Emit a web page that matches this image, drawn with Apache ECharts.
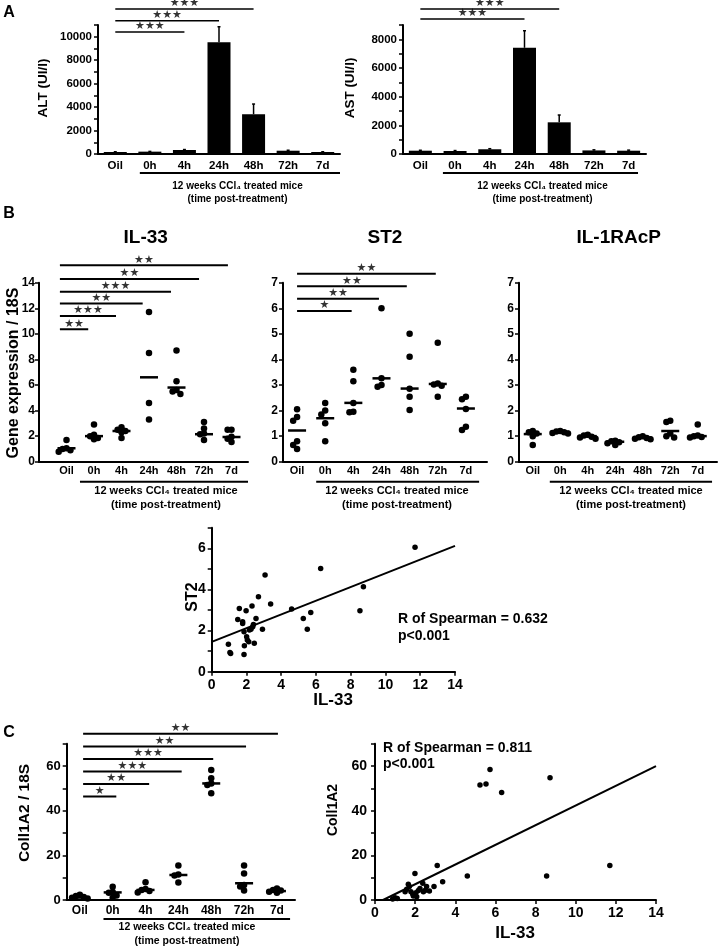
<!DOCTYPE html>
<html><head><meta charset="utf-8">
<script src="https://cdn.jsdelivr.net/npm/echarts@6/dist/echarts.min.js"></script>
<style>html,body{margin:0;padding:0;background:#fff}#c{width:720px;height:946px}</style>
</head><body><div id="c"></div>
<script>
// ---------- data ----------
const timeCats = ['Oil', '0h', '4h', '24h', '48h', '72h', '7d'];

// Panel A (bars: mean, error)
const altMean = [170, 200, 340, 9520, 3390, 280, 170];
const altErr  = [20, 20, 40, 1330, 870, 40, 20];
const astMean = [230, 210, 330, 7410, 2210, 250, 230];
const astErr  = [30, 30, 40, 1190, 510, 40, 40];
// significance brackets: [fromCat, toCat, level, stars]
const altSig = [[0, 2, 10400, '★★★'], [0, 3, 11360, '★★★'], [0, 4, 12360, '★★★']];
const astSig = [[0, 3, 9410, '★★★'], [0, 4, 10110, '★★★']];

// Panel B dot plots
const il33Values = [
  [1.7, 1.05, 1.0, 0.9, 0.78],
  [2.9, 2.1, 2.0, 1.85, 1.75],
  [2.7, 2.5, 2.4, 2.3, 1.85],
  [11.7, 8.5, 4.6, 3.3],
  [8.7, 6.3, 5.6, 5.5, 5.3],
  [3.1, 2.6, 2.2, 2.15, 1.7],
  [2.5, 2.5, 1.95, 1.8, 1.55]
];
const il33Medians = [1.05, 2.0, 2.4, 6.6, 5.8, 2.15, 1.93];
const il33Sig = [[-0.24, 0.79, 10.35, '★★'], [-0.24, 1.8, 11.39, '★★★'], [-0.24, 2.77, 12.38, '★★'],
                 [-0.24, 3.8, 13.29, '★★★'], [-0.24, 4.82, 14.28, '★★'], [-0.24, 5.87, 15.36, '★★']];

const st2Values = [
  [2.05, 1.75, 1.6, 0.8, 0.65, 0.5],
  [2.3, 2.0, 1.85, 1.5, 0.8],
  [3.6, 3.15, 2.3, 1.95, 1.93],
  [6.0, 3.26, 3.0, 2.93],
  [5.0, 4.1, 2.85, 2.54, 2.02],
  [4.65, 3.06, 3.02, 2.97, 2.54],
  [2.54, 2.44, 2.06, 1.37, 1.24]
];
const st2Medians = [1.22, 1.7, 2.3, 3.26, 2.86, 3.04, 2.08];
const st2Sig = [[0, 1.94, 5.89, '★'], [0, 2.91, 6.37, '★★'], [0, 3.9, 6.86, '★★'], [0, 4.93, 7.35, '★★']];

const il1rValues = [
  [1.2, 1.15, 1.1, 1.0, 0.65],
  [1.2, 1.18, 1.15, 1.12, 1.1],
  [1.05, 1.02, 0.98, 0.95, 0.9],
  [0.82, 0.8, 0.76, 0.72, 0.65],
  [1.0, 0.96, 0.93, 0.9, 0.88],
  [1.6, 1.55, 1.1, 1.0, 0.95],
  [1.45, 1.02, 1.0, 0.97, 0.95]
];
const il1rMedians = [1.08, 1.17, 1.0, 0.78, 0.94, 1.2, 1.0];

// ST2 vs IL-33 correlation
const il33ForSt2 = [0.96,1.05,1.09,1.5,1.59,1.78,1.78,1.86,1.88,1.86,1.98,2.01,2.05,2.13,2.17,2.26,2.32,2.36,2.4,2.45,2.55,2.69,2.92,3.07,3.39,4.6,5.27,5.5,5.7,6.27,8.53,8.73,11.7];
const st2ForIl33 = [1.33,0.94,0.89,2.54,3.08,2.43,2.35,0.84,1.26,1.94,2.97,1.7,1.54,1.46,2.03,2.06,3.19,2.19,2.3,1.38,2.59,3.65,2.06,4.7,3.29,3.05,2.59,2.06,2.88,5.02,2.97,4.13,6.05];
const st2Fit = [[0, 1.45], [14, 6.12]];

// Panel C
const colValues = [
  [2.3, 1.8, 1.3, 1.0, 0.7],
  [5.9, 3.6, 3.3, 2.0, 1.0],
  [7.9, 4.9, 4.5, 4.0, 3.4],
  [15.4, 11.4, 11.0, 7.8],
  [58.2, 54.5, 52.2, 51.5, 47.8],
  [15.4, 11.9, 6.7, 6.0, 4.2],
  [5.2, 4.5, 4.2, 3.7, 3.3]
];
const colMedians = [1.1, 3.4, 4.5, 11.2, 52.2, 7.5, 4.0];
const colSig = [[0.1, 1.11, 46.3, '★'], [0.1, 2.11, 51.9, '★★'], [0.1, 3.1, 57.5, '★★★'],
                [0.1, 4.06, 63.1, '★★★'], [0.1, 5.06, 68.8, '★★'], [0.1, 6.03, 74.5, '★★']];

const il33ForCol = [5.23,5.53,5.73,6.31,8.72,3.1,4.6,8.55,11.7,1.99,3.37,2.94,1.0,1.11,0.88,1.58,1.66,1.71,1.5,1.79,1.88,1.91,2.04,2.08,2.16,2.24,2.38,2.41,2.49,2.57,2.71];
const colForIl33 = [51.5,51.9,58.5,48.1,54.8,15.4,10.7,10.7,15.4,11.9,8.2,6.0,1.0,0.7,0.4,4.8,7.0,6.0,3.7,3.7,2.7,1.8,3.3,1.5,4.2,5.2,7.5,3.7,4.2,6.0,4.0];
const colFit = [[0.4, 0], [14, 60]];

// ---------- helpers ----------
const FONT = '"Liberation Sans", Arial, Helvetica, sans-serif';
const BLACK = '#000';

function yAxisCfg(grid, max, interval, labelEvery, fontSize, margin) {
  return {
    type: 'value', gridIndex: grid, min: 0, max: max, interval: interval,
    axisLine: { show: true, onZero: false, lineStyle: { color: BLACK, width: 2 } },
    axisTick: { show: true, length: 4, lineStyle: { color: BLACK, width: 1.5 } },
    splitLine: { show: false },
    axisLabel: { color: BLACK, fontWeight: 'bold', fontSize: fontSize, fontFamily: FONT, margin: margin,
      formatter: v => { const q = v / labelEvery; return Math.abs(q - Math.round(q)) < 1e-6 ? String(v) : ''; } }
  };
}
function catValueAxis(grid, min, max, fontSize, margin) {
  return {
    type: 'value', gridIndex: grid, min: min, max: max, interval: 0.1,
    axisLine: { show: true, onZero: false, lineStyle: { color: BLACK, width: 2 } },
    axisTick: { show: false }, splitLine: { show: false },
    axisLabel: { color: BLACK, fontWeight: 'bold', fontSize: fontSize, fontFamily: FONT, margin: margin,
      showMinLabel: true, showMaxLabel: true,
      formatter: v => { const r = Math.round(v); return (Math.abs(v - r) < 1e-6 && r >= 0 && r < timeCats.length) ? timeCats[r] : ''; } }
  };
}
function numAxis(grid, max, interval, fontSize, margin) {
  return {
    type: 'value', gridIndex: grid, min: 0, max: max, interval: interval,
    axisLine: { show: true, onZero: false, lineStyle: { color: BLACK, width: 2 } },
    axisTick: { show: true, length: 4, lineStyle: { color: BLACK, width: 1.5 } },
    splitLine: { show: false },
    axisLabel: { color: BLACK, fontWeight: 'bold', fontSize: fontSize, fontFamily: FONT, margin: margin }
  };
}
function sigSeries(xi, yi, brackets, lw) {
  const out = [];
  brackets.forEach(b => {
    out.push({ type: 'line', xAxisIndex: xi, yAxisIndex: yi, data: [[b[0], b[2]], [b[1], b[2]]],
      symbol: 'none', clip: false, silent: true, lineStyle: { color: BLACK, width: lw } });
  });
  out.push({ type: 'scatter', xAxisIndex: xi, yAxisIndex: yi, clip: false, silent: true,
    symbolSize: 0.1, itemStyle: { color: 'rgba(0,0,0,0)' },
    data: brackets.map(b => ({ value: [(b[0] + b[1]) / 2, b[2]], name: b[3] })),
    label: { show: true, position: 'top', distance: 0, formatter: '{b}', color: BLACK,
      fontFamily: '"DejaVu Sans"', fontSize: 11 } });
  return out;
}
function underline(xi, yi, x0, x1, y) {
  return { type: 'line', xAxisIndex: xi, yAxisIndex: yi, data: [[x0, y], [x1, y]], symbol: 'none',
    clip: false, silent: true, lineStyle: { color: BLACK, width: 2 } };
}
// horizontal spreading of overlapping dots (visual only)
function swarm(groups, pxX, pxY, size) {
  const out = [];
  const step = size * 0.6;
  groups.forEach((vals, i) => {
    const placed = [];
    vals.forEach(v => {
      for (const k of [0, -1, 1, -2, 2, -3, 3]) {
        const dx = k * step;
        const hit = placed.some(p => Math.hypot((p.y - v) * pxY, p.dx - dx) < step);
        if (!hit) { placed.push({ dx: dx, y: v }); out.push([i + dx / pxX, v]); break; }
      }
    });
  });
  return out;
}
function dotSeries(xi, yi, groups, medians, pxX, pxY) {
  return [
    { type: 'scatter', xAxisIndex: xi, yAxisIndex: yi, symbolSize: 6.5, itemStyle: { color: BLACK, opacity: 1 },
      data: swarm(groups, pxX, pxY, 6.5), silent: true },
    { type: 'scatter', xAxisIndex: xi, yAxisIndex: yi, symbol: 'rect', symbolSize: [18, 2.5],
      itemStyle: { color: BLACK, opacity: 1 }, data: medians.map((m, i) => [i, m]), silent: true, z: 3 }
  ];
}
function errSeries(xi, yi, mean, err) {
  return { type: 'custom', xAxisIndex: xi, yAxisIndex: yi, silent: true, z: 5,
    data: mean.map((m, i) => [i, m, err[i]]),
    renderItem: (params, api) => {
      const x = api.value(0), v = api.value(1), e = api.value(2);
      const p0 = api.coord([x, v]), p1 = api.coord([x, v + e]);
      return { type: 'group', children: [
        { type: 'line', shape: { x1: p0[0], y1: p0[1], x2: p1[0], y2: p1[1] }, style: { stroke: BLACK, lineWidth: 1.5 } },
        { type: 'line', shape: { x1: p1[0] - 1.5, y1: p1[1], x2: p1[0] + 1.5, y2: p1[1] }, style: { stroke: BLACK, lineWidth: 1.5 } }
      ] };
    } };
}
function txt(x, y, text, size, opts) {
  opts = opts || {};
  return { type: 'text', x: x, y: y, rotation: opts.rot || 0, silent: true,
    style: { text: text, fill: BLACK, fontSize: size, fontWeight: 'bold', fontFamily: FONT,
      align: opts.align || 'center', verticalAlign: 'middle', lineHeight: opts.lh || size * 1.2 } };
}
const subLine1 = '12 weeks CCl₄ treated mice';
const subLine2 = '(time post-treatment)';
function subtitle(cx, y1, y2, size) {
  return [txt(cx, y1, subLine1, size), txt(cx, y2, subLine2, size)];
}

// ---------- layout ----------
const grids = [
  { left: 98, top: 25, width: 242, height: 129 },
  { left: 403, top: 25, width: 243, height: 129 },
  { left: 39, top: 282.7, width: 209, height: 179 },
  { left: 283, top: 282.7, width: 204, height: 179 },
  { left: 519, top: 282.7, width: 199, height: 179 },
  { left: 211.7, top: 527.8, width: 243.3, height: 143.9 },
  { left: 66.7, top: 743.7, width: 228.3, height: 156.3 },
  { left: 375, top: 743.7, width: 281, height: 156.3 }
];
const catAxisA = g => ({ type: 'category', gridIndex: g, data: timeCats,
  axisLine: { show: true, onZero: false, lineStyle: { color: BLACK, width: 2 } }, axisTick: { show: false },
  axisLabel: { interval: 0, color: BLACK, fontWeight: 'bold', fontSize: 11.5, fontFamily: FONT, margin: 6 } });

const xAxes = [
  catAxisA(0), catAxisA(1),
  catValueAxis(2, -1, 6.6, 11, 4),
  catValueAxis(3, -0.5, 6.75, 11, 4),
  catValueAxis(4, -0.5, 6.7, 11, 4),
  numAxis(5, 14, 2, 14, 6),
  catValueAxis(6, -0.4, 6.55, 12, 5),
  numAxis(7, 14, 2, 14, 6),
  { type: 'value', gridIndex: 0, min: -0.5, max: 6.5, show: false },
  { type: 'value', gridIndex: 1, min: -0.5, max: 6.5, show: false }
];
const yAxes = [
  yAxisCfg(0, 11000, 1000, 2000, 11.5, 6),
  yAxisCfg(1, 9000, 1000, 2000, 11.5, 6),
  yAxisCfg(2, 14, 2, 2, 12, 4),
  yAxisCfg(3, 7, 1, 1, 12, 5),
  yAxisCfg(4, 7, 1, 1, 12, 5),
  yAxisCfg(5, 7, 1, 2, 14, 6),
  yAxisCfg(6, 70, 10, 20, 13, 6),
  yAxisCfg(7, 70, 10, 20, 14, 8)
];

const series = [
  { type: 'bar', xAxisIndex: 0, yAxisIndex: 0, data: altMean, barWidth: 23, itemStyle: { color: BLACK }, silent: true },
  errSeries(0, 0, altMean, altErr),
  ...sigSeries(8, 0, altSig, 1.5),
  underline(8, 0, 0.71, 6.5, -1620),
  { type: 'bar', xAxisIndex: 1, yAxisIndex: 1, data: astMean, barWidth: 23, itemStyle: { color: BLACK }, silent: true },
  errSeries(1, 1, astMean, astErr),
  ...sigSeries(9, 1, astSig, 1.5),
  underline(9, 1, 0.65, 6.27, -1326),

  ...dotSeries(2, 2, il33Values, il33Medians, 27.5, 12.79),
  ...sigSeries(2, 2, il33Sig, 2),
  underline(2, 2, 0.49, 6.6, -1.56),
  ...dotSeries(3, 3, st2Values, st2Medians, 28.14, 25.57),
  ...sigSeries(3, 3, st2Sig, 2),
  underline(3, 3, 0.68, 6.47, -0.78),
  ...dotSeries(4, 4, il1rValues, il1rMedians, 27.6, 25.57),
  underline(4, 4, 0.62, 6.52, -0.78),

  { type: 'scatter', xAxisIndex: 5, yAxisIndex: 5, symbolSize: 5.5, itemStyle: { color: BLACK, opacity: 1 }, silent: true,
    data: il33ForSt2.map((x, i) => [x, st2ForIl33[i]]) },
  { type: 'line', xAxisIndex: 5, yAxisIndex: 5, data: st2Fit, symbol: 'none', silent: true, lineStyle: { color: BLACK, width: 2 } },

  ...dotSeries(6, 6, colValues, colMedians, 32.85, 2.233),
  ...sigSeries(6, 6, colSig, 2),
  underline(6, 6, 0.72, 6.4, -8.5),

  { type: 'scatter', xAxisIndex: 7, yAxisIndex: 7, symbolSize: 5.5, itemStyle: { color: BLACK, opacity: 1 }, silent: true,
    data: il33ForCol.map((x, i) => [x, colForIl33[i]]) },
  { type: 'line', xAxisIndex: 7, yAxisIndex: 7, data: colFit, symbol: 'none', silent: true, lineStyle: { color: BLACK, width: 2 } }
];

const R90 = Math.PI / 2;
const graphic = [
  txt(9, 13, 'A', 16), txt(9, 214, 'B', 16), txt(9, 733, 'C', 16),
  txt(43.5, 88, 'ALT (UI/l)', 13.5, { rot: R90 }),
  txt(350, 88, 'AST (UI/l)', 13.5, { rot: R90 }),
  ...subtitle(237.5, 186, 199, 10),
  ...subtitle(542.5, 186, 199, 10),
  txt(145.7, 238, 'IL-33', 19), txt(385, 238, 'ST2', 19), txt(618.7, 238, 'IL-1RAcP', 19),
  txt(14, 373, 'Gene expression / 18S', 16, { rot: R90 }),
  ...subtitle(166, 491, 505, 11),
  ...subtitle(397, 491, 505, 11),
  ...subtitle(631, 491, 505, 11),
  txt(193, 597, 'ST2', 16, { rot: R90 }),
  txt(333, 700, 'IL-33', 17),
  txt(398, 619.5, 'R of Spearman = 0.632', 14, { align: 'left' }),
  txt(398, 636, 'p<0.001', 14, { align: 'left' }),
  txt(25, 813, 'Coll1A2 / 18S', 15.5, { rot: R90 }),
  ...subtitle(187, 926.7, 941, 10.5),
  txt(333, 810, 'Coll1A2', 14, { rot: R90 }),
  txt(515, 933, 'IL-33', 17),
  txt(383, 748.5, 'R of Spearman = 0.811', 14, { align: 'left' }),
  txt(383, 764.5, 'p<0.001', 14, { align: 'left' })
];

const chart = echarts.init(document.getElementById('c'), null, { renderer: 'canvas' });
chart.setOption({
  animation: false,
  backgroundColor: '#fff',
  textStyle: { fontFamily: FONT },
  grid: grids,
  xAxis: xAxes,
  yAxis: yAxes,
  series: series,
  graphic: graphic
});
</script></body></html>
